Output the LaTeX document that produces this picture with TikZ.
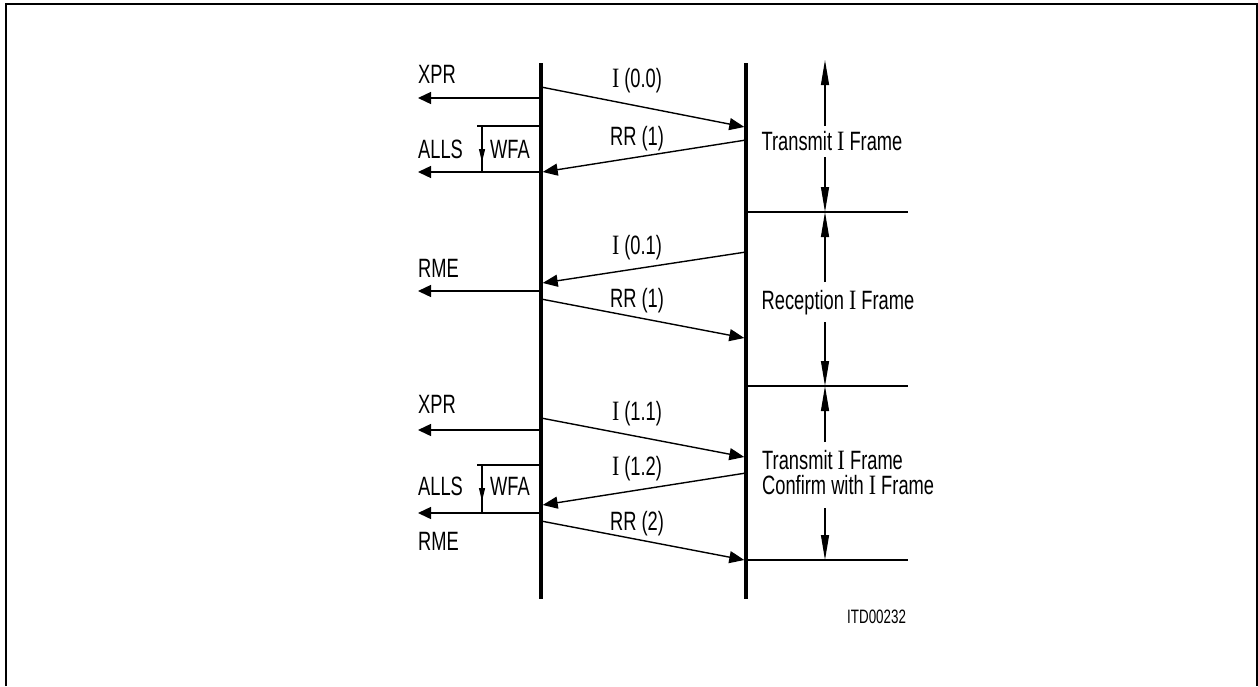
\documentclass[tikz,border=0pt]{standalone}
\usepackage{fontspec}
\setmainfont{Liberation Sans}[FakeStretch=0.69]
\newfontfamily\serifI{Liberation Serif}[FakeStretch=0.78]
\usetikzlibrary{arrows.meta}
\newcommand{\Ii}{{\serifI\fontsize{28}{25}\selectfont I}}
\begin{document}
\begin{tikzpicture}[x=1pt,y=-1pt,
  life/.style={line width=3.4pt},
  frame/.style={line width=2pt},
  msg/.style={line width=1.4pt,-{Triangle[length=15pt,width=12pt]}},
  sig/.style={line width=1.4pt,-{Triangle[length=13pt,width=12pt]}},
  dimarrow/.style={line width=1.2pt,-{Triangle[length=25pt,width=8pt]}},
  wfaarrow/.style={line width=1.2pt,-{Triangle[length=13pt,width=6pt]}},
  thinline/.style={line width=1.2pt},
  lbl/.style={inner sep=0pt,font=\fontsize{26.5}{25}\selectfont},
  small/.style={inner sep=0pt,font=\fontsize{19.4}{22}\selectfont}]
\useasboundingbox (0,0) rectangle (1258,686);
% frame
\coordinate (fbl) at (5.5,686);
\coordinate (ftl) at (5.5,4);
\coordinate (ftr) at (1256.5,4);
\coordinate (fbr) at (1256.5,686);
\draw[frame] (fbl) -- (ftl) -- (ftr) -- (fbr);
% lifelines
\coordinate (Lt) at (541,63); \coordinate (Lb) at (541,599);
\coordinate (Rt) at (746,63); \coordinate (Rb) at (746,599);
\draw[life] (Lt) -- (Lb);
\draw[life] (Rt) -- (Rb);
% ---------- section 1
\coordinate (xprA) at (541,98);   \coordinate (xprAe) at (418,98);
\draw[sig] (xprA) -- (xprAe);
\node[lbl,anchor=base west] (xprAl) at (418,83) {XPR};
\coordinate (wfaAt) at (541,126); \coordinate (wfaAl0) at (477,126);
\coordinate (wfaAc) at (482,126);
\coordinate (wfaAb) at (482,172); \coordinate (wfaAtip) at (482,162);
\draw[thinline] (wfaAt) -- (wfaAl0);
\draw[thinline] (wfaAc) -- (wfaAb);
\draw[wfaarrow] (wfaAc) -- (wfaAtip);
\coordinate (allsA) at (541,172); \coordinate (allsAe) at (418,172);
\draw[sig] (allsA) -- (allsAe);
\node[lbl,anchor=base west] (allsAl) at (418,158) {ALLS};
\node[lbl,anchor=base west] (wfaAl) at (490,158) {WFA};
\coordinate (m1s) at (541,87);  \coordinate (m1e) at (744.3,127);
\draw[msg] (m1s) -- (m1e);
\node[lbl,anchor=base] (m1l) at (637,87) {\Ii\ (0.0)};
\coordinate (m2s) at (746,140); \coordinate (m2e) at (542.7,172);
\draw[msg] (m2s) -- (m2e);
\node[lbl,anchor=base] (m2l) at (637,145) {RR (1)};
% ---------- section 2
\coordinate (m3s) at (746,252); \coordinate (m3e) at (542.7,283);
\draw[msg] (m3s) -- (m3e);
\node[lbl,anchor=base] (m3l) at (637,254) {\Ii\ (0.1)};
\coordinate (rmeA) at (541,291); \coordinate (rmeAe) at (418,291);
\draw[sig] (rmeA) -- (rmeAe);
\node[lbl,anchor=base west] (rmeAl) at (418,277) {RME};
\coordinate (m4s) at (541,299); \coordinate (m4e) at (744.3,338);
\draw[msg] (m4s) -- (m4e);
\node[lbl,anchor=base] (m4l) at (637,307) {RR (1)};
% ---------- section 3
\coordinate (xprB) at (541,430); \coordinate (xprBe) at (418,430);
\draw[sig] (xprB) -- (xprBe);
\node[lbl,anchor=base west] (xprBl) at (418,413) {XPR};
\coordinate (m5s) at (541,418); \coordinate (m5e) at (744.3,457);
\draw[msg] (m5s) -- (m5e);
\node[lbl,anchor=base] (m5l) at (637,420) {\Ii\ (1.1)};
\coordinate (wfaBt) at (541,465); \coordinate (wfaBl0) at (477,465);
\coordinate (wfaBc) at (482,465);
\coordinate (wfaBb) at (482,513); \coordinate (wfaBtip) at (482,501);
\draw[thinline] (wfaBt) -- (wfaBl0);
\draw[thinline] (wfaBc) -- (wfaBb);
\draw[wfaarrow] (wfaBc) -- (wfaBtip);
\coordinate (m6s) at (746,473); \coordinate (m6e) at (542.7,505);
\draw[msg] (m6s) -- (m6e);
\node[lbl,anchor=base] (m6l) at (637,475) {\Ii\ (1.2)};
\coordinate (allsB) at (541,513); \coordinate (allsBe) at (418,513);
\draw[sig] (allsB) -- (allsBe);
\node[lbl,anchor=base west] (allsBl) at (418,495) {ALLS};
\node[lbl,anchor=base west] (wfaBl) at (490,495) {WFA};
\coordinate (m7s) at (541,521); \coordinate (m7e) at (744.3,560);
\draw[msg] (m7s) -- (m7e);
\node[lbl,anchor=base] (m7l) at (637,530) {RR (2)};
\node[lbl,anchor=base west] (rmeBl) at (418,550) {RME};
% ---------- right side
\coordinate (h1s) at (747,212); \coordinate (h1e) at (908,212);
\coordinate (h2s) at (747,386); \coordinate (h2e) at (908,386);
\coordinate (h3s) at (747,560); \coordinate (h3e) at (908,560);
\draw[thinline] (h1s) -- (h1e);
\draw[thinline] (h2s) -- (h2e);
\draw[thinline] (h3s) -- (h3e);
\node[lbl,anchor=base] (t1) at (832,150) {Transmit \Ii\ Frame};
\coordinate (d1a) at (825,126); \coordinate (d1t) at (825,60);
\coordinate (d1b) at (825,157); \coordinate (d1u) at (825,212);
\draw[dimarrow] (d1a) -- (d1t);
\draw[dimarrow] (d1b) -- (d1u);
\node[lbl,anchor=base] (t2) at (838,309) {Reception \Ii\ Frame};
\coordinate (d2a) at (825,282); \coordinate (d2t) at (825,212);
\coordinate (d2b) at (825,322); \coordinate (d2u) at (825,386);
\draw[dimarrow] (d2a) -- (d2t);
\draw[dimarrow] (d2b) -- (d2u);
\node[lbl,align=left,anchor=base west] (t3) at (762,494) {Transmit \Ii\ Frame\\Confirm with \Ii\ Frame};
\coordinate (d3a) at (825,442); \coordinate (d3t) at (825,386);
\coordinate (d3b) at (825,508); \coordinate (d3u) at (825,560);
\draw[dimarrow] (d3a) -- (d3t);
\draw[dimarrow] (d3b) -- (d3u);
\node[small,anchor=base west] (itd) at (847,623) {ITD00232};
\end{tikzpicture}
\end{document}
